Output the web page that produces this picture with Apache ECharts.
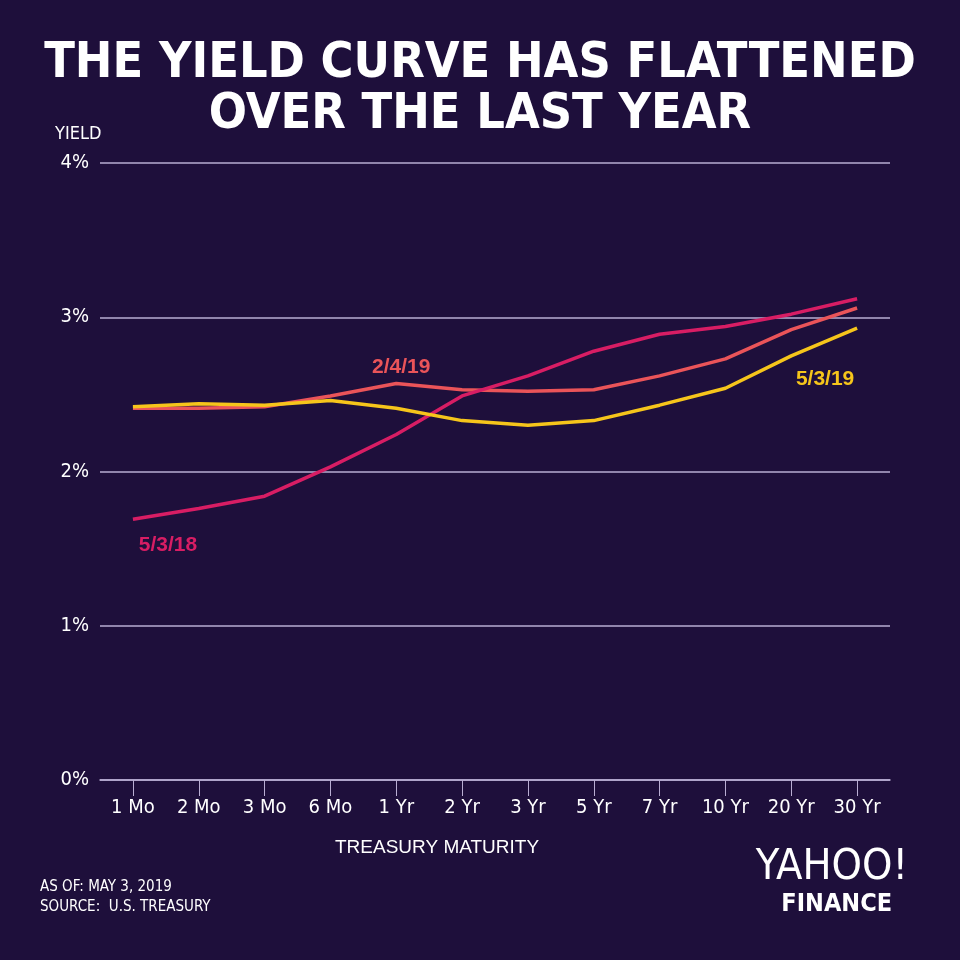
<!DOCTYPE html>
<html><head><meta charset="utf-8">
<script src="https://cdn.jsdelivr.net/npm/echarts@6/dist/echarts.min.js"></script>
<style>html,body{margin:0;padding:0;background:#1e0f3b;}#c{width:960px;height:960px;}</style>
</head><body><div id="c"></div>
<script>
var categories = ['1 Mo','2 Mo','3 Mo','6 Mo','1 Yr','2 Yr','3 Yr','5 Yr','7 Yr','10 Yr','20 Yr','30 Yr'];
var yields_5_3_18 = [1.69,1.76,1.84,2.03,2.24,2.49,2.62,2.78,2.89,2.94,3.02,3.12];
var yields_2_4_19 = [2.41,2.41,2.42,2.49,2.57,2.53,2.52,2.53,2.62,2.73,2.92,3.06];
var yields_5_3_19 = [2.42,2.44,2.43,2.46,2.41,2.33,2.30,2.33,2.43,2.54,2.75,2.93];
var yTicks = [0,1,2,3,4];

var BG = '#1e0f3b';
var C1 = '#d81d64', C2 = '#ea5459', C3 = '#f6c51b';
var narrow = '"Liberation Sans Narrow","DejaVu Sans Condensed","Roboto Condensed",Arial,sans-serif';
var condBold = '"DejaVu Sans Condensed","Liberation Sans Narrow",sans-serif';
var labFont = '"Liberation Sans", Arial, sans-serif';

function labelled(arr, idx, lab) {
  return arr.map(function (v, i) {
    if (i !== idx) return v;
    return { value: v, label: Object.assign({ show: true }, lab) };
  });
}

var chart = echarts.init(document.getElementById('c'), null, { renderer: 'canvas' });
chart.setOption({
  backgroundColor: BG,
  animation: false,
  title: {
    text: 'THE YIELD CURVE HAS FLATTENED\nOVER THE LAST YEAR',
    left: 'center', top: 34,
    textStyle: { color: '#ffffff', fontFamily: condBold, fontWeight: 'bold', fontSize: 50, lineHeight: 51 }
  },
  grid: { left: 100, right: 70, top: 163, bottom: 180 },
  xAxis: {
    type: 'category', data: categories, boundaryGap: true,
    axisLine: { show: true, lineStyle: { color: '#b9aed3', width: 1.5 } },
    axisTick: { show: true, alignWithLabel: true, length: 16, lineStyle: { color: '#b9aed3', width: 1 } },
    axisLabel: { color: '#ffffff', fontFamily: narrow, fontSize: 20, margin: 18 }
  },
  yAxis: {
    type: 'value', min: 0, max: 4, interval: 1,
    name: 'YIELD', nameLocation: 'end', nameGap: 20,
    nameTextStyle: { color: '#ffffff', fontFamily: narrow, fontSize: 18, align: 'left', padding: [0, 0, 0, -45] },
    axisLine: { show: false }, axisTick: { show: false },
    splitLine: { lineStyle: { color: '#b9aed3', width: 1.5 } },
    axisLabel: { color: '#ffffff', fontFamily: narrow, fontSize: 20, margin: 11,
      formatter: function (v) { return yTicks.indexOf(v) >= 0 ? v + '%' : ''; } }
  },
  series: [
    { name: '5/3/18', type: 'line', symbol: 'circle', symbolSize: 0, showSymbol: true, z: 3,
      lineStyle: { color: C1, width: 3.5 }, itemStyle: { color: C1 },
      data: labelled(yields_5_3_18, 0, { formatter: '5/3/18', position: 'bottom', distance: 15, offset: [35, 0],
        color: C1, fontFamily: labFont, fontWeight: 'bold', fontSize: 21 }) },
    { name: '2/4/19', type: 'line', symbol: 'circle', symbolSize: 0, showSymbol: true, z: 2,
      lineStyle: { color: C2, width: 3.5 }, itemStyle: { color: C2 },
      data: labelled(yields_2_4_19, 4, { formatter: '2/4/19', position: 'top', distance: 6, offset: [5, 0],
        color: C2, fontFamily: labFont, fontWeight: 'bold', fontSize: 21 }) },
    { name: '5/3/19', type: 'line', symbol: 'circle', symbolSize: 0, showSymbol: true, z: 4,
      lineStyle: { color: C3, width: 3.5 }, itemStyle: { color: C3 },
      data: labelled(yields_5_3_19, 11, { formatter: '5/3/19', position: 'bottom', distance: 41, offset: [-32, 0],
        color: C3, fontFamily: labFont, fontWeight: 'bold', fontSize: 21 }) }
  ],
  graphic: [
    { type: 'text', left: 335, top: 838, style: { text: 'TREASURY MATURITY', fill: '#ffffff', font: '19px ' + labFont } },
    { type: 'text', left: 40, top: 877, style: { text: 'AS OF: MAY 3, 2019\nSOURCE:  U.S. TREASURY', fill: '#ffffff',
        font: '15px ' + narrow, lineHeight: 20 } },
    { type: 'text', right: 52, top: 846, style: { text: 'YAHOO!', fill: '#ffffff', font: '300 43px ' + narrow } },
    { type: 'text', right: 68, top: 892, style: { text: 'FINANCE', fill: '#ffffff', font: 'bold 25px ' + condBold } }
  ]
});
</script></body></html>
